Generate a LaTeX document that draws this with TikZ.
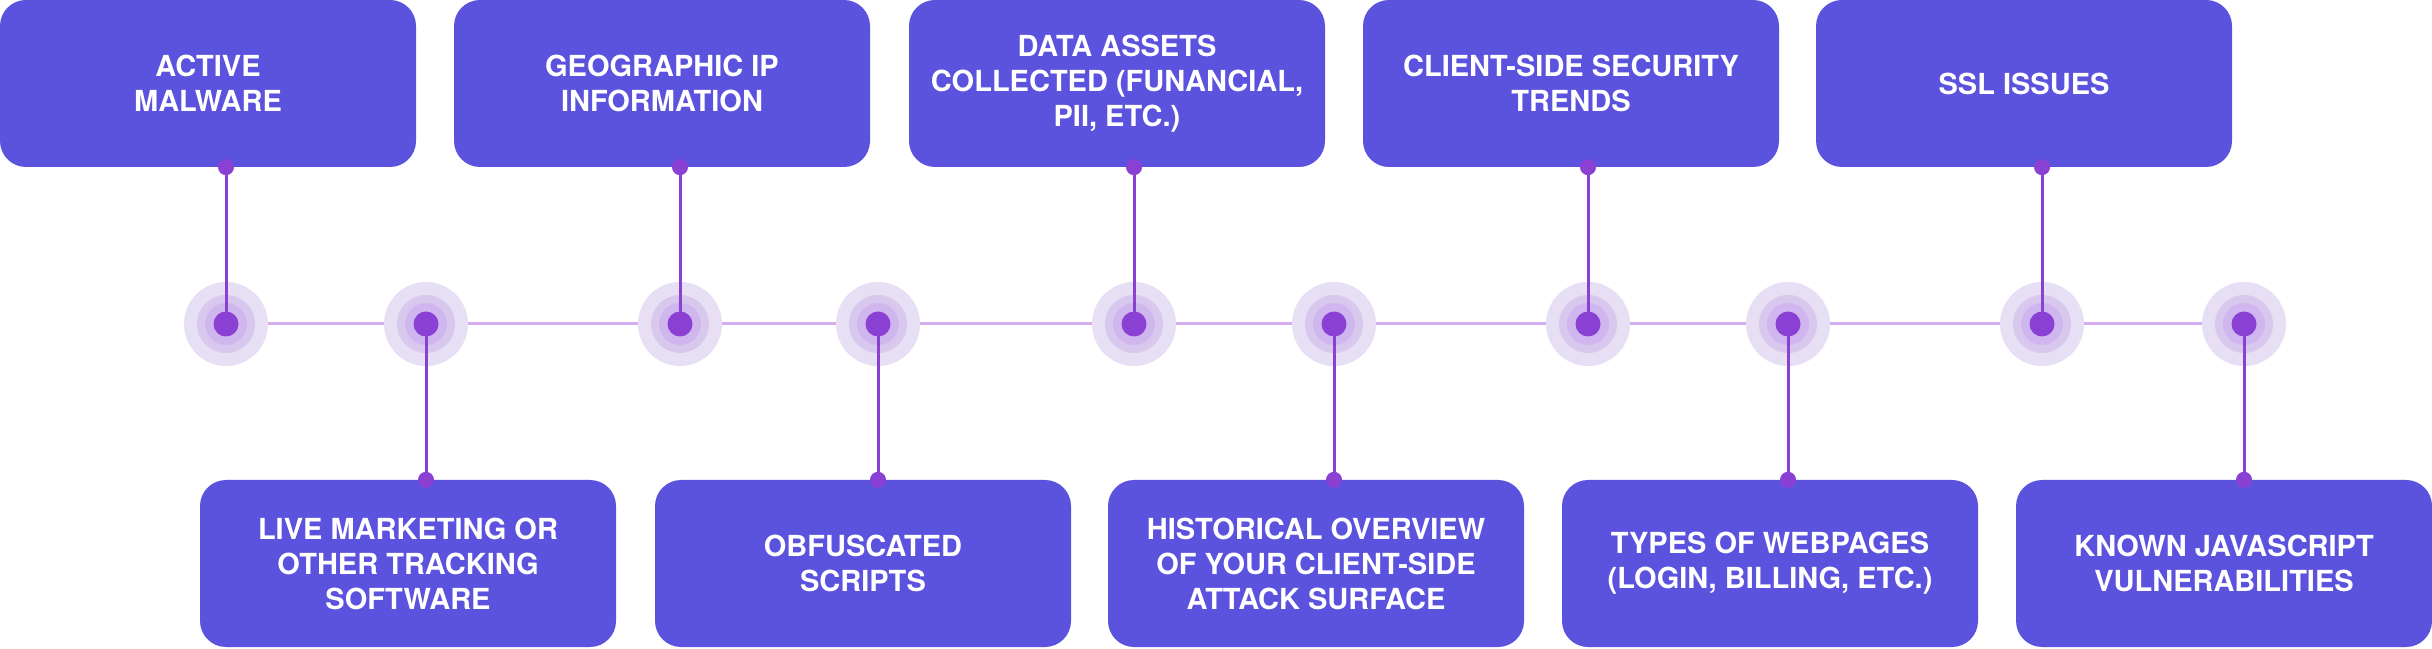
\documentclass[tikz,border=0pt]{standalone}
\usepackage{fontspec}
\setmainfont{TeX Gyre Heros}
\usetikzlibrary{positioning}

\definecolor{boxblue}{RGB}{91,82,222}
\definecolor{dotpurple}{RGB}{139,64,212}
\definecolor{ringA}{RGB}{231,223,243}
\definecolor{ringB}{RGB}{217,200,238}
\definecolor{ringC}{RGB}{208,182,238}
\definecolor{railviolet}{RGB}{212,172,240}

\tikzset{
  infobox/.style={rectangle, rounded corners=26pt, fill=boxblue, text=white,
    minimum width=416pt, minimum height=167pt, inner sep=0pt, align=center,
    font=\fontsize{29}{35}\selectfont\bfseries},
  hub/.style={circle, fill=dotpurple, minimum size=25pt, inner sep=0pt},
  pin/.style={circle, fill=dotpurple, minimum size=16pt, inner sep=0pt},
  stem/.style={dotpurple, line width=3pt},
  rail/.style={railviolet, line width=3pt},
}

\begin{document}
\begin{tikzpicture}[x=1pt, y=1pt]
\useasboundingbox (0,0) rectangle (2432,648);

        % Points on the timeline
        \foreach \n/\x in {1/226, 2/426, 3/680, 4/878, 5/1134, 6/1334, 7/1588, 8/1788, 9/2042, 10/2244}
          \coordinate (p\n) at (\x,324);

        % Top boxes
        \node[infobox] (t1) at (208,564.5) {ACTIVE\\MALWARE};
        \node[infobox] (t2) at (662,564.5) {GEOGRAPHIC IP\\INFORMATION};
        \node[infobox] (t3) at (1117,564.5) {DATA ASSETS\\COLLECTED (FUNANCIAL,\\PII, ETC.)};
        \node[infobox] (t4) at (1571,564.5) {CLIENT-SIDE SECURITY\\TRENDS};
        \node[infobox] (t5) at (2024,564.5) {SSL ISSUES};

        % Bottom boxes
        \node[infobox] (b1) at (408,84.5) {LIVE MARKETING OR\\OTHER TRACKING\\SOFTWARE};
        \node[infobox] (b2) at (863,84.5) {OBFUSCATED\\SCRIPTS};
        \node[infobox] (b3) at (1316,84.5) {HISTORICAL OVERVIEW\\OF YOUR CLIENT-SIDE\\ATTACK SURFACE};
        \node[infobox] (b4) at (1770,84.5) {TYPES OF WEBPAGES\\(LOGIN, BILLING, ETC.)};
        \node[infobox] (b5) at (2224,84.5) {KNOWN JAVASCRIPT\\VULNERABILITIES};

        % Timeline
        \draw[rail] (p1) -- (p10);

        % Halos round each point
        \foreach \n in {1,...,10} {
          \fill[ringA] (p\n) circle (42pt);
          \fill[ringB] (p\n) circle (29pt);
          \fill[ringC] (p\n) circle (21pt);
        }

        % Stems up to the top boxes
        \foreach \i/\j in {1/1, 2/3, 3/5, 4/7, 5/9} {
          \node[pin] (ts\i) at (p\j |- t\i.south) {};
          \draw[stem] (p\j) -- (ts\i);
        }

        % Stems down to the bottom boxes
        \foreach \i/\j in {1/2, 2/4, 3/6, 4/8, 5/10} {
          \node[pin] (bs\i) at (p\j |- b\i.north) {};
          \draw[stem] (p\j) -- (bs\i);
        }

        % Centre dots
        \foreach \n in {1,...,10}
          \node[hub] (c\n) at (p\n) {};
\end{tikzpicture}
\end{document}
